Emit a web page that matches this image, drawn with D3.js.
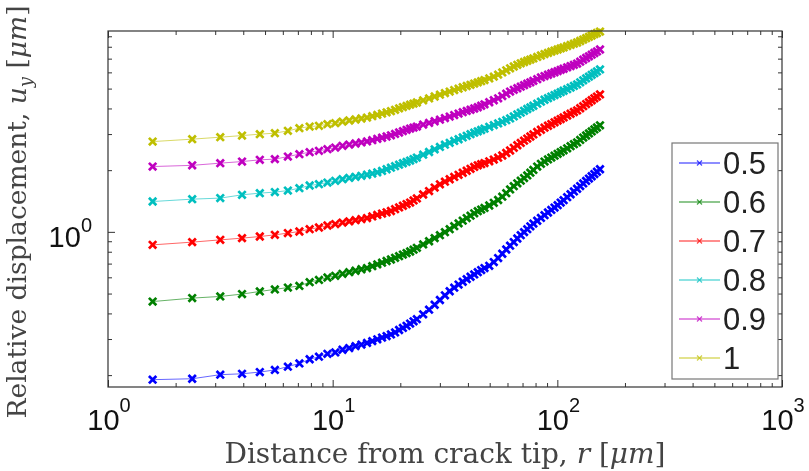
<!DOCTYPE html>
<html><head><meta charset="utf-8">
<script src="https://cdn.jsdelivr.net/npm/d3@7"></script>
<style>body{margin:0;background:#fff}svg{display:block}</style>
</head><body>
<svg id="chart" width="809" height="471"></svg>
<script>
// Distance from crack tip r [um]
const rValues = [1.58,2.37,3.16,3.95,4.74,5.53,6.32,7.11,7.90,8.69,9.48,10.27,11.06,11.85,12.64,13.43,14.22,15.01,15.80,16.59,17.38,18.17,18.96,19.75,20.54,21.33,22.12,22.91,23.70,
25.28,26.86,28.44,30.02,31.60,33.18,34.76,36.34,37.92,39.50,41.08,42.66,44.24,45.82,47.40,
49.77,52.14,54.51,56.88,59.25,61.62,63.99,66.36,68.73,71.10,73.47,75.84,78.21,
81.37,84.53,87.69,90.85,94.01,97.17,100.33,103.49,
106.65,110.60,114.55,118.50,122.45,126.40,130.35,134.30,138.25,142.20,146.15,150.10,154.84];

const uy05 = [0.190,0.192,0.201,0.203,0.207,0.212,0.220,0.228,0.239,0.246,0.254,0.258,0.266,0.271,0.277,0.282,0.287,0.293,0.299,0.305,0.310,0.316,0.323,0.332,0.340,0.348,0.357,0.366,0.375,
0.396,0.417,0.441,0.465,0.490,0.513,0.534,0.553,0.571,0.588,0.604,0.620,0.636,0.651,0.666,
0.683,0.712,0.745,0.782,0.820,0.856,0.892,0.928,0.963,0.997,1.031,1.064,1.097,
1.133,1.169,1.206,1.243,1.279,1.314,1.350,1.389,
1.428,1.477,1.526,1.575,1.623,1.673,1.723,1.772,1.820,1.868,1.914,1.965,2.021];

const uy06 = [0.457,0.475,0.484,0.497,0.512,0.524,0.535,0.545,0.568,0.583,0.599,0.610,0.624,0.636,0.646,0.657,0.666,0.680,0.694,0.707,0.721,0.733,0.747,0.761,0.775,0.788,0.802,0.819,0.836,
0.868,0.900,0.932,0.963,0.996,1.031,1.066,1.100,1.134,1.167,1.199,1.232,1.261,1.284,1.308,
1.345,1.385,1.430,1.485,1.545,1.610,1.670,1.725,1.778,1.830,1.885,1.945,2.005,
2.083,2.147,2.203,2.256,2.304,2.354,2.402,2.451,
2.498,2.557,2.618,2.677,2.731,2.809,2.883,2.952,3.022,3.091,3.161,3.229,3.309];

const uy07 = [0.864,0.891,0.914,0.932,0.949,0.967,0.986,1.004,1.031,1.050,1.074,1.091,1.110,1.125,1.140,1.154,1.167,1.189,1.209,1.228,1.246,1.264,1.290,1.316,1.341,1.366,1.390,1.423,1.456,
1.521,1.581,1.645,1.706,1.758,1.806,1.853,1.897,1.942,1.987,2.030,2.073,2.111,2.140,2.166,
2.209,2.252,2.300,2.358,2.425,2.495,2.570,2.645,2.715,2.785,2.852,2.920,2.988,
3.071,3.150,3.225,3.294,3.358,3.422,3.489,3.552,
3.617,3.695,3.770,3.844,3.912,4.010,4.106,4.203,4.293,4.386,4.481,4.573,4.682];

const uy08 = [1.406,1.444,1.461,1.516,1.545,1.563,1.590,1.634,1.683,1.709,1.740,1.774,1.808,1.833,1.855,1.876,1.899,1.925,1.951,1.982,2.021,2.057,2.092,2.128,2.161,2.193,2.228,2.266,2.304,
2.380,2.453,2.526,2.597,2.662,2.719,2.777,2.831,2.889,2.942,2.995,3.046,3.094,3.140,3.186,
3.254,3.317,3.381,3.442,3.508,3.576,3.658,3.741,3.817,3.895,3.975,4.047,4.124,
4.223,4.318,4.411,4.491,4.573,4.650,4.724,4.805,
4.880,4.969,5.059,5.151,5.238,5.363,5.485,5.603,5.717,5.834,5.947,6.061,6.199];

const uy09 = [2.083,2.111,2.164,2.203,2.246,2.264,2.330,2.394,2.448,2.484,2.532,2.577,2.629,2.665,2.698,2.732,2.762,2.802,2.844,2.879,2.919,2.958,3.005,3.053,3.101,3.147,3.190,3.226,3.262,
3.336,3.400,3.465,3.528,3.592,3.653,3.715,3.775,3.835,3.891,3.943,3.997,4.056,4.124,4.189,
4.290,4.386,4.481,4.599,4.719,4.837,4.930,5.019,5.111,5.197,5.286,5.364,5.454,
5.560,5.666,5.756,5.841,5.926,6.007,6.088,6.171,
6.248,6.347,6.439,6.534,6.623,6.766,6.912,7.053,7.188,7.319,7.460,7.594,7.758];

const uy10 = [2.757,2.833,2.897,2.950,2.997,3.031,3.110,3.206,3.264,3.290,3.353,3.391,3.451,3.494,3.534,3.574,3.611,3.668,3.722,3.777,3.828,3.880,3.941,4.004,4.063,4.118,4.174,4.226,4.278,
4.385,4.479,4.576,4.670,4.755,4.836,4.918,4.995,5.075,5.149,5.219,5.290,5.362,5.434,5.502,
5.608,5.720,5.850,5.995,6.140,6.280,6.410,6.530,6.640,6.740,6.835,6.927,7.020,
7.140,7.253,7.368,7.468,7.568,7.663,7.758,7.854,
7.943,8.059,8.169,8.279,8.392,8.534,8.670,8.809,8.948,9.080,9.214,9.338,9.487];

const seriesNames = ["0.5","0.6","0.7","0.8","0.9","1"];
const seriesValues = [uy05, uy06, uy07, uy08, uy09, uy10];
const seriesColors = ["#0000ff","#008000","#ff0000","#00bfbf","#bf00bf","#bfbf00"];

const xMajorExps = [0,1,2,3];
const yMajorExps = [0];
const xMinor = [1,10,100].flatMap(d => [2,3,4,5,6,7,8,9].map(m => m*d));
const yMinor = [0.2,0.3,0.4,0.5,0.6,0.7,0.8,0.9,2,3,4,5,6,7,8,9];

const svg = d3.select("#chart");
const W = 809, H = 471;
const L = 108, R = 782, T = 31, B = 387;

const x = d3.scaleLog().domain([1, 1000]).range([L, R]);
const y = d3.scaleLog().domain([0.175, 9.55]).range([B, T]);

svg.append("rect").attr("width", W).attr("height", H).attr("fill", "#fff");

const root = svg.append("g").style("filter", "blur(0.4px)");

// series
const line = d3.line().x(d => x(d.r)).y(d => y(d.v));
const xMark = "M-3.7,-3.7L3.7,3.7M-3.7,3.7L3.7,-3.7";

seriesValues.forEach((vals, i) => {
  const data = rValues.map((r, j) => ({r, v: vals[j]}));
  const g = root.append("g");
  g.append("path").datum(data)
    .attr("d", line).attr("fill", "none")
    .attr("stroke", seriesColors[i]).attr("stroke-width", 1).attr("stroke-opacity", 0.6);
  g.selectAll("path.m").data(data).join("path").attr("class", "m")
    .attr("d", xMark)
    .attr("transform", d => `translate(${x(d.r)},${y(d.v)})`)
    .attr("fill", "none").attr("stroke", seriesColors[i]).attr("stroke-width", 2.7);
});

// axes (ticks inward, box)
const axCol = "#333";
function styleAxis(g) {
  g.select(".domain").remove();
  g.selectAll(".tick line").attr("stroke", axCol).attr("stroke-width", 1);
  g.selectAll(".tick text").remove();
}
const majX = xMajorExps.map(e => Math.pow(10, e));
const majY = yMajorExps.map(e => Math.pow(10, e));

root.append("g").attr("transform", `translate(0,${B})`)
  .call(d3.axisBottom(x).tickValues(majX).tickSize(-7).tickFormat("")).call(styleAxis);
root.append("g").attr("transform", `translate(0,${B})`)
  .call(d3.axisBottom(x).tickValues(xMinor).tickSize(-4).tickFormat("")).call(styleAxis);
root.append("g").attr("transform", `translate(0,${T})`)
  .call(d3.axisTop(x).tickValues(majX).tickSize(-7).tickFormat("")).call(styleAxis);
root.append("g").attr("transform", `translate(0,${T})`)
  .call(d3.axisTop(x).tickValues(xMinor).tickSize(-4).tickFormat("")).call(styleAxis);
root.append("g").attr("transform", `translate(${L},0)`)
  .call(d3.axisLeft(y).tickValues(majY).tickSize(-7).tickFormat("")).call(styleAxis);
root.append("g").attr("transform", `translate(${L},0)`)
  .call(d3.axisLeft(y).tickValues(yMinor).tickSize(-4).tickFormat("")).call(styleAxis);
root.append("g").attr("transform", `translate(${R},0)`)
  .call(d3.axisRight(y).tickValues(majY).tickSize(-7).tickFormat("")).call(styleAxis);
root.append("g").attr("transform", `translate(${R},0)`)
  .call(d3.axisRight(y).tickValues(yMinor).tickSize(-4).tickFormat("")).call(styleAxis);

root.append("rect").attr("x", L).attr("y", T).attr("width", R - L).attr("height", B - T)
  .attr("fill", "none").attr("stroke", axCol).attr("stroke-width", 1.2);

// tick labels
const tickFont = "'Liberation Sans', Arial, sans-serif";
xMajorExps.forEach(e => {
  const t = root.append("text").attr("x", x(Math.pow(10, e)) + 1).attr("y", 430)
    .attr("text-anchor", "middle").attr("font-family", tickFont).attr("fill", "#111");
  t.append("tspan").attr("font-size", 29).text("10");
  t.append("tspan").attr("font-size", 20).attr("dy", -18).text(String(e));
});
yMajorExps.forEach(e => {
  const t = root.append("text").attr("x", 92).attr("y", y(Math.pow(10, e)) + 15)
    .attr("text-anchor", "end").attr("font-family", tickFont).attr("fill", "#111");
  t.append("tspan").attr("font-size", 29).text("10");
  t.append("tspan").attr("font-size", 20).attr("dy", -15).text(String(e));
});

// axis titles
const serif = "'DejaVu Serif', 'Liberation Serif', serif";
const xt = root.append("text").attr("x", (L + R) / 2).attr("y", 463)
  .attr("text-anchor", "middle").attr("font-family", serif).attr("font-size", 28).attr("fill", "#444");
xt.append("tspan").text("Distance from crack tip, ");
xt.append("tspan").attr("font-style", "italic").text("r");
xt.append("tspan").text(" [");
xt.append("tspan").attr("font-style", "italic").text("μm");
xt.append("tspan").text("]");

const yt = root.append("text").attr("transform", `translate(26,${(T + B) / 2 + 3}) rotate(-90)`)
  .attr("text-anchor", "middle").attr("font-family", serif).attr("font-size", 26.5).attr("fill", "#444");
yt.append("tspan").text("Relative displacement, ");
yt.append("tspan").attr("font-style", "italic").text("u");
yt.append("tspan").attr("font-style", "italic").attr("font-size", 18).attr("dy", 6).text("y");
yt.append("tspan").attr("dy", -6).text(" [");
yt.append("tspan").attr("font-style", "italic").text("μm");
yt.append("tspan").text("]");

// legend
const lg = root.append("g");
lg.append("rect").attr("x", 672).attr("y", 143).attr("width", 106).attr("height", 236)
  .attr("fill", "#fff").attr("stroke", "#777").attr("stroke-width", 1.2);
seriesNames.forEach((n, i) => {
  const cy = 163 + 39 * i;
  lg.append("line").attr("x1", 679).attr("x2", 720).attr("y1", cy).attr("y2", cy)
    .attr("stroke", seriesColors[i]).attr("stroke-width", 1.3).attr("stroke-opacity", 0.6);
  lg.append("path").attr("d", "M-2.5,-2.5L2.5,2.5M-2.5,2.5L2.5,-2.5")
    .attr("transform", `translate(699.5,${cy})`)
    .attr("stroke", seriesColors[i]).attr("stroke-width", 1.3).attr("stroke-opacity", 0.7);
  lg.append("text").attr("x", 723).attr("y", cy + 11).attr("font-family", tickFont)
    .attr("font-size", 31).attr("fill", "#222").text(n);
});
</script>
</body></html>
